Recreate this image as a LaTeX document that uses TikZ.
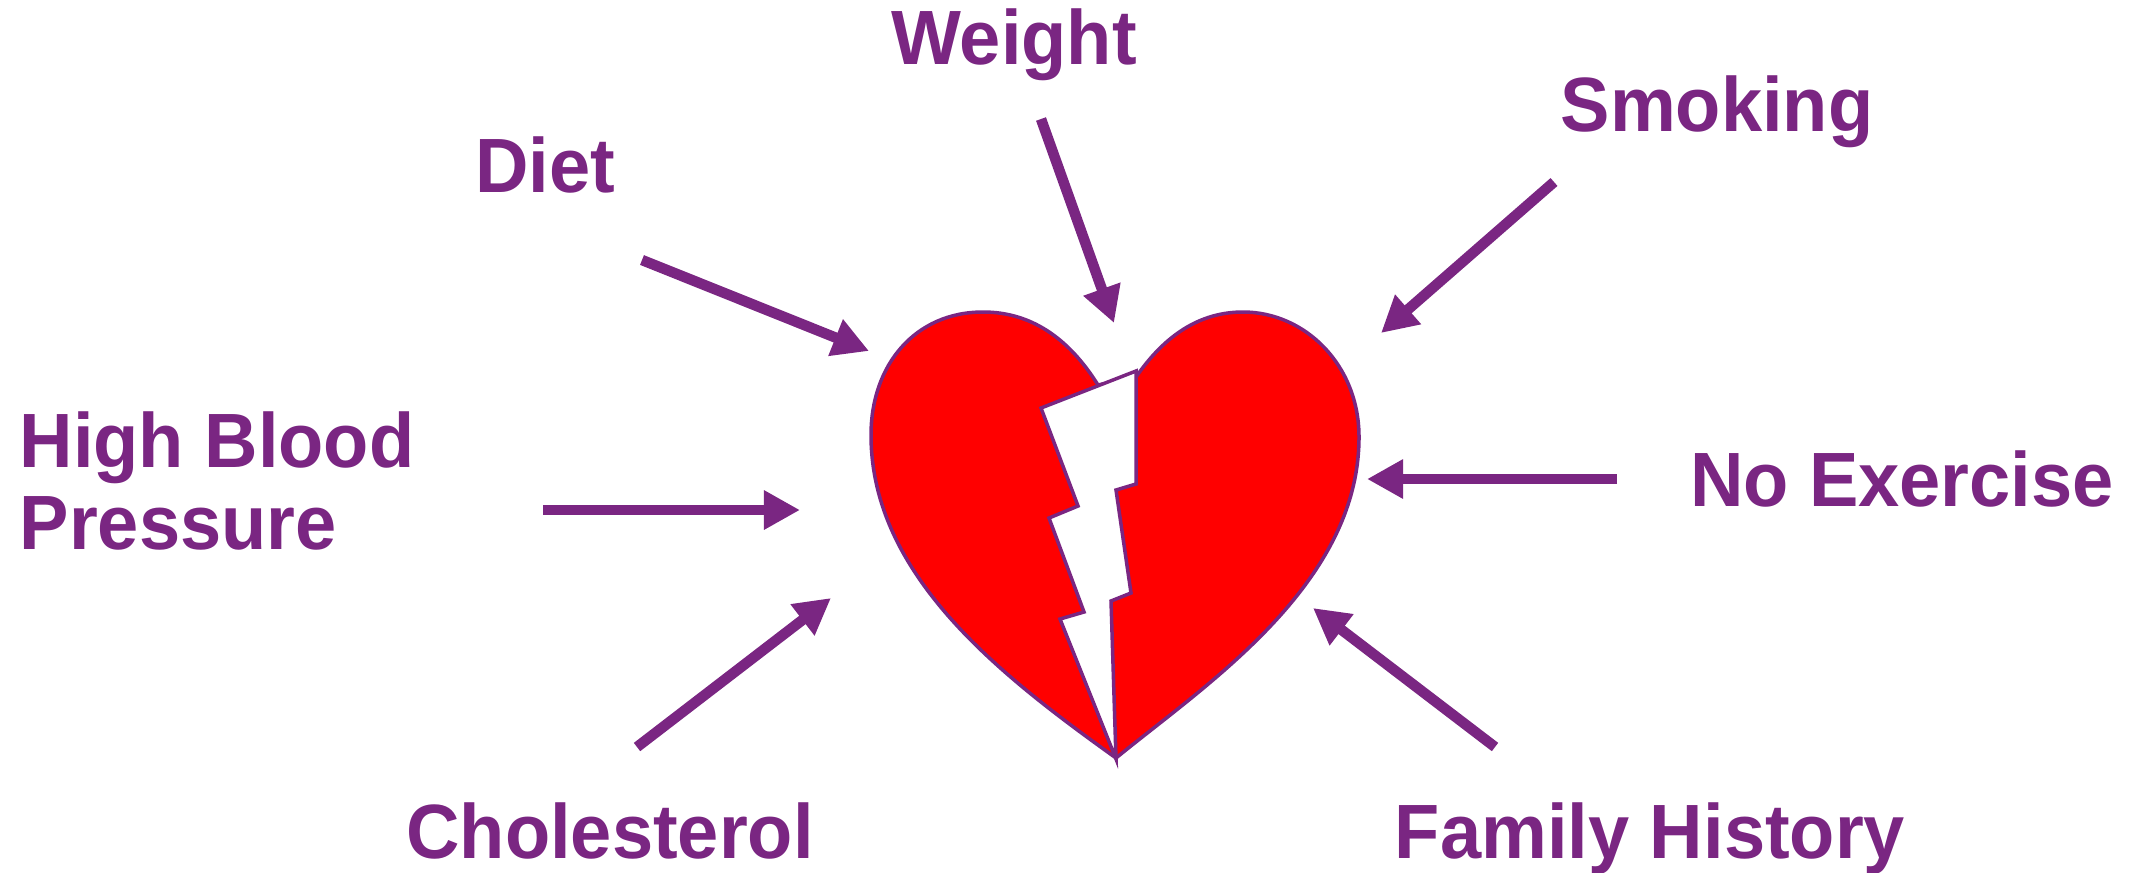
\documentclass[tikz,border=0pt]{standalone}
\usepackage{fontspec}
\setmainfont{Liberation Sans}
\usetikzlibrary{positioning,arrows.meta,calc}
\definecolor{riskpurple}{RGB}{122,38,130}

\begin{document}
\begin{tikzpicture}[x=0.01cm,y=-0.01cm,
  risk/.style={text=riskpurple,inner sep=0pt,yscale=1.04,transform shape,font=\fontsize{21.05}{22.2}\selectfont\bfseries},
  riskarrow/.style={draw=riskpurple,line width=0.105cm,-{Triangle[length=0.36cm,width=0.37cm]}},
  heartline/.style={draw=riskpurple,line width=0.035cm,fill=red}]
  \useasboundingbox (0,0) rectangle (2131,872);
  % heart
  \draw[heartline] (1098,385) .. controls (1068,337) and (1030,312) .. (983,312)
    .. controls (915,312) and (871,365) .. (871,435)
    .. controls (871,575) and (1000,675) .. (1116,758)
    .. controls (1205,685) and (1359,585) .. (1359,437)
    .. controls (1359,365) and (1305,312) .. (1243,312)
    .. controls (1200,312) and (1165,335) .. (1136,377) -- cycle;
  % crack
  \draw[heartline,fill=white,miter limit=20] (1041,408) -- (1136,371) -- (1136,484) -- (1116,490)
    -- (1131,593) -- (1111,601) -- (1116,759) -- (1060,619) -- (1084,612)
    -- (1049,518) -- (1078,506) -- cycle;
  % labels
  \node[risk,anchor=base] (weight) at (1014,64) {Weight};
  \node[risk,anchor=base] (diet) at (545,192) {Diet};
  \node[risk,anchor=base] (smoking) at (1717,131) {Smoking};
  \node[risk,anchor=base] (exercise) at (1902,506) {No Exercise};
  \node[risk,anchor=base] (family) at (1650,858) {Family History};
  \node[risk,anchor=base] (cholesterol) at (610,858) {Cholesterol};
  \node[risk,anchor=west,align=left] (pressure) at (19,481) {High Blood\\Pressure};
  % arrows
  \coordinate (dietA) at (642,260);
  \coordinate (dietB) at (869,351);
  \coordinate (weightA) at (1041,119);
  \coordinate (weightB) at (1114,323);
  \coordinate (smokingA) at (1554,182);
  \coordinate (smokingB) at (1381,333);
  \coordinate (exerciseA) at (1617,479);
  \coordinate (exerciseB) at (1367,479);
  \coordinate (familyA) at (1495,747);
  \coordinate (familyB) at (1313,608);
  \coordinate (cholesterolA) at (637,747);
  \coordinate (cholesterolB) at (831,598);
  \coordinate (pressureA) at (543,510);
  \coordinate (pressureB) at (800,510);
  \draw[riskarrow] (dietA) -- (dietB);
  \draw[riskarrow] (weightA) -- (weightB);
  \draw[riskarrow] (smokingA) -- (smokingB);
  \draw[riskarrow] (exerciseA) -- (exerciseB);
  \draw[riskarrow] (familyA) -- (familyB);
  \draw[riskarrow] (cholesterolA) -- (cholesterolB);
  \draw[riskarrow] (pressureA) -- (pressureB);
\end{tikzpicture}
\end{document}
